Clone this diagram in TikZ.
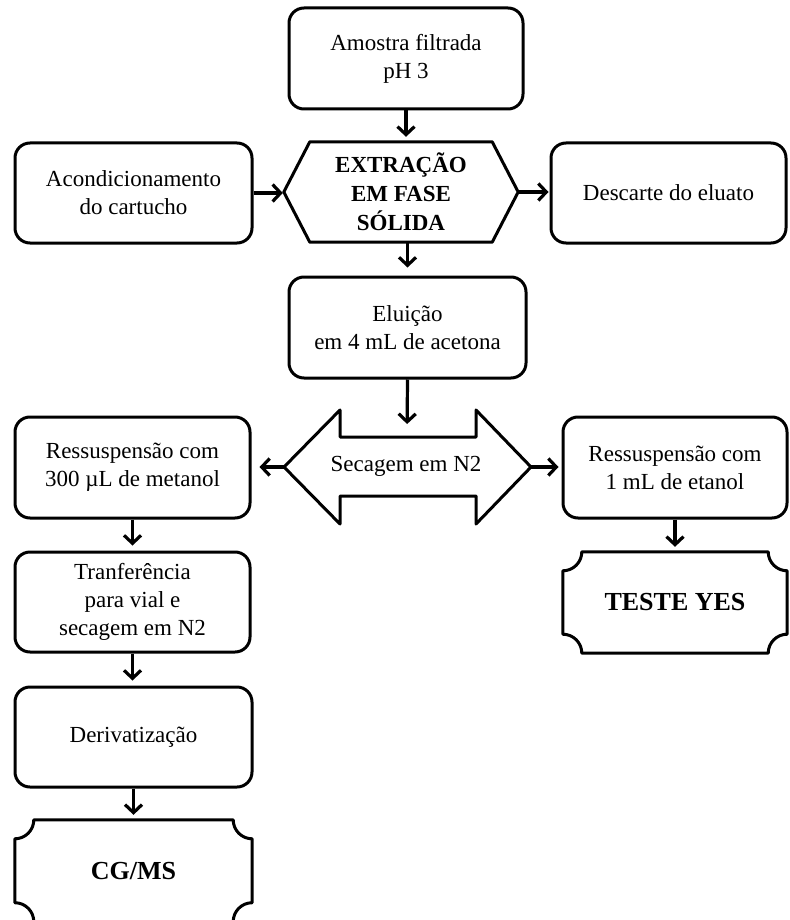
\documentclass[tikz,border=0pt]{standalone}
\usepackage{fontspec}
\setmainfont{Liberation Serif}
\usetikzlibrary{arrows.meta}
\begin{document}
\begin{tikzpicture}[x=1pt,y=-1pt,
  txt/.style={font=\fontsize{23}{28}\selectfont, align=center, inner sep=0pt},
  box/.style={txt, draw, line width=3pt, rounded corners=15pt},
  bold/.style={txt, font=\fontsize{23}{29}\selectfont\bfseries},
  bigbold/.style={txt, font=\fontsize{26}{30}\selectfont\bfseries},
  outline/.style={line width=3pt, line join=round},
  arr/.style={line width=3.2pt, -{Straight Barb[length=8pt,width=17pt]}, shorten >=5pt}
]
\useasboundingbox (0,0) rectangle (789,920);

% boxes
\node[box, minimum width=234pt, minimum height=101pt] (amostra) at (406,58.5) {Amostra filtrada\\pH 3};
\node[box, minimum width=237pt, minimum height=100pt] (acond) at (133.5,193) {Acondicionamento\\do cartucho};
\node[bold, minimum width=234pt, minimum height=100pt] (hex) at (401,192) {EXTRAÇÃO\\EM FASE\\SÓLIDA};
\draw[outline] (hex.west) -- ([xshift=26pt]hex.north west) -- ([xshift=-26pt]hex.north east)
  -- (hex.east) -- ([xshift=-26pt]hex.south east) -- ([xshift=26pt]hex.south west) -- cycle;
\node[box, minimum width=235pt, minimum height=100pt] (desc) at (668.5,193) {Descarte do eluato};
\node[box, minimum width=237pt, minimum height=101pt] (elu) at (407.5,327.5) {Eluição\\em 4 mL de acetona};

% double arrow
\node[txt] (sec) at (406,466.5) {Secagem em N2};
\coordinate (secL) at (284,467);
\coordinate (secR) at (531,467);
\coordinate (secTop) at (407,437);
\draw[outline] (secL) -- (340,410) -- (340,437) -- (476,437) -- (476,410) -- (secR)
  -- (476,524) -- (476,496) -- (340,496) -- (340,524) -- cycle;

\node[box, minimum width=235pt, minimum height=101pt] (res1) at (132.5,467.5) {Ressuspensão com\\300 µL de metanol};
\node[box, minimum width=224pt, minimum height=101pt] (res2) at (675,467.5) {Ressuspensão com\\1 mL de etanol};
\node[box, minimum width=235pt, minimum height=100pt] (transf) at (132.5,602) {Tranferência\\para vial e\\secagem em N2};
\node[box, minimum width=237pt, minimum height=100pt] (deriv) at (133.5,737) {Derivatização};

% plaque shapes
\node[bigbold, minimum width=224pt, minimum height=101pt] (teste) at (675,602.5) {TESTE YES};
\node[bigbold, minimum width=237pt, minimum height=101.5pt] (cgms) at (133.5,870.75) {CG/MS};
\foreach \n in {teste,cgms}{
  \draw[outline] ([xshift=19pt]\n.north west) -- ([xshift=-19pt]\n.north east)
    arc[start angle=180, end angle=270, radius=19pt]
    -- ([yshift=19pt]\n.south east)
    arc[start angle=90, end angle=180, radius=19pt]
    -- ([xshift=19pt]\n.south west)
    arc[start angle=0, end angle=90, radius=19pt]
    -- ([yshift=-19pt]\n.north west)
    arc[start angle=270, end angle=360, radius=19pt] -- cycle;
}

% connectors
\draw[arr] (amostra.south) -- (amostra.south |- hex.north);
\draw[arr, shorten >=1pt] (acond.east) -- (acond.east -| hex.west);
\draw[arr, shorten >=1pt] (hex.east) -- (hex.east -| desc.west);
\draw[arr, shorten >=8pt] (elu.north |- hex.south) -- (elu.north);
\draw[arr, shorten >=13pt] (elu.south) -- (secTop);
\draw[arr, shorten >=8pt] (secL) -- (secL -| res1.east);
\draw[arr, shorten >=3pt] (secR) -- (secR -| res2.west);
\draw[arr] (res1.south) -- (transf.north);
\draw[arr] (res2.south) -- (teste.north);
\draw[arr] (transf.south) -- (transf.south |- deriv.north);
\draw[arr] (deriv.south) -- (cgms.north);
\end{tikzpicture}
\end{document}
